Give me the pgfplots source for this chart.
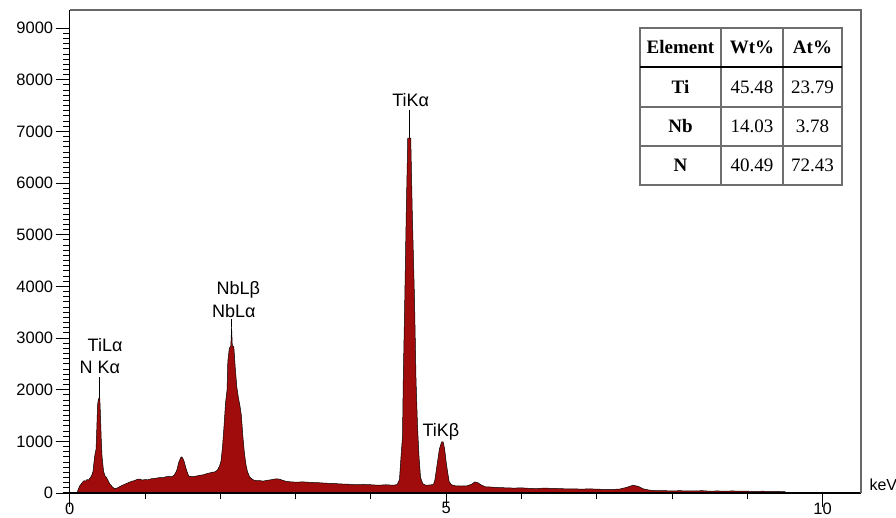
\documentclass[border=0pt]{standalone}
\usepackage{fontspec}
\setmainfont{Liberation Sans}
\newfontfamily\tabfont{Liberation Serif}
\usepackage{pgfplots}
\pgfplotsset{compat=1.18}
\definecolor{specred}{RGB}{160,12,12}
\definecolor{framegray}{RGB}{105,105,105}
\definecolor{tabgray}{RGB}{110,110,110}
\tikzset{peak/.style={font=\fontsize{18}{18}\selectfont, inner sep=0pt}}

\begin{document}
\begin{tikzpicture}
\path[use as bounding box] (0,0) rectangle (896pt,518pt);
\begin{axis}[
  at={(69.7pt,25pt)}, anchor=south west,
  scale only axis, width=791.3pt, height=483pt,
  xmin=0, xmax=10.51, ymin=0, ymax=9350,
  xtick={0,5,10}, minor x tick num=4,
  ytick={0,1000,...,9000}, minor y tick num=9,
  tick align=outside, tick pos=left,
  major tick length=14pt, minor tick length=6.5pt,
  tick style={black, line width=0.9pt},
  minor tick style={black, line width=0.8pt},
  axis line style={draw=none},
  /pgf/number format/assume math mode=true,
  /pgf/number format/set thousands separator={},
  ticklabel style={font=\fontsize{16.5}{16.5}\selectfont},
  yticklabel style={xshift=1pt},
  xticklabel style={yshift=8pt},
  clip=false,
]
\addplot[draw=black, line width=0.5pt, fill=specred] table {
x y
0.00 0
0.10 0
0.11 60
0.13 130
0.15 170
0.17 210
0.19 240
0.21 230
0.23 260
0.25 250
0.27 290
0.29 330
0.31 420
0.33 700
0.35 850
0.36 1250
0.37 1700
0.38 1810
0.39 1840
0.40 1830
0.41 1450
0.42 1000
0.43 700
0.45 420
0.47 330
0.49 300
0.51 240
0.53 180
0.55 150
0.57 110
0.60 85
0.63 95
0.66 120
0.70 150
0.74 175
0.78 200
0.82 225
0.86 240
0.90 265
0.93 270
0.96 250
1.00 260
1.04 255
1.08 275
1.12 280
1.16 290
1.20 300
1.24 295
1.28 315
1.32 320
1.36 315
1.39 350
1.42 430
1.45 600
1.48 700
1.50 680
1.52 610
1.55 450
1.58 330
1.61 315
1.65 320
1.69 330
1.73 345
1.77 350
1.81 370
1.85 385
1.89 400
1.93 410
1.96 440
1.99 520
2.01 620
2.03 900
2.05 1300
2.07 1750
2.09 2000
2.10 2550
2.12 2800
2.14 2850
2.15 3220
2.16 2850
2.18 2830
2.20 2400
2.22 2050
2.24 1850
2.26 1700
2.28 1500
2.30 1100
2.32 780
2.34 560
2.36 420
2.39 310
2.43 260
2.47 240
2.52 240
2.57 230
2.62 245
2.67 255
2.72 270
2.76 275
2.80 260
2.85 235
2.90 220
2.95 215
3.00 210
3.10 215
3.20 205
3.30 200
3.40 190
3.50 185
3.60 175
3.70 170
3.80 160
3.90 165
4.00 160
4.10 150
4.20 160
4.30 150
4.35 165
4.38 260
4.40 700
4.42 1090
4.43 2185
4.45 3730
4.47 5440
4.49 6870
4.53 6870
4.55 5440
4.58 3730
4.60 2185
4.62 1280
4.64 700
4.66 300
4.69 180
4.73 150
4.78 155
4.83 165
4.85 250
4.87 450
4.89 650
4.91 850
4.94 990
4.96 990
4.98 850
5.00 600
5.02 400
5.04 220
5.07 160
5.12 140
5.20 135
5.28 140
5.34 170
5.38 215
5.42 200
5.46 160
5.52 120
5.60 115
5.70 105
5.80 100
5.90 95
6.00 100
6.10 90
6.20 85
6.30 95
6.40 90
6.50 85
6.60 80
6.70 80
6.80 75
6.90 80
7.00 75
7.10 70
7.20 70
7.30 75
7.40 110
7.48 150
7.55 130
7.62 80
7.70 55
7.80 45
7.90 45
8.00 40
8.10 45
8.20 40
8.30 40
8.40 45
8.50 35
8.60 40
8.70 35
8.80 40
8.90 35
9.00 35
9.10 30
9.20 35
9.30 30
9.40 30
9.50 25
9.52 0
10.51 0
} \closedcycle;
% frame
\draw[black, line width=1.3pt] (rel axis cs:0,1) -- (rel axis cs:0,0);
\draw[black, line width=1.3pt] ([xshift=-7pt]rel axis cs:0,0) -- (rel axis cs:1,0);
\draw[framegray, line width=1.1pt] (rel axis cs:0,1) -- (rel axis cs:1,1) -- (rel axis cs:1,0);
% peak labels
\draw[black, line width=0.7pt] (axis cs:0.39,1840) -- (axis cs:0.39,2250);
\node[peak] at (axis cs:0.47,2864) {TiLα};
\node[peak] at (axis cs:0.40,2440) {N Kα};
\draw[black, line width=0.7pt] (axis cs:2.15,3220) -- (axis cs:2.15,3370);
\node[peak] at (axis cs:2.24,3940) {NbLβ};
\node[peak] at (axis cs:2.18,3530) {NbLα};
\draw[black, line width=0.7pt] (axis cs:4.51,6870) -- (axis cs:4.51,7410);
\node[peak] at (axis cs:4.53,7610) {TiKα};
\node[peak] at (axis cs:4.93,1186) {TiKβ};
\end{axis}
% keV label
\node[anchor=west, font=\fontsize{16}{16}\selectfont] at (866pt,33pt) {keV};
% table
\fill[white] (640pt,333pt) rectangle (842pt,490pt);
\draw[tabgray, line width=1.1pt] (640pt,333pt) rectangle (842pt,490pt);
\draw[tabgray, line width=1.1pt] (721pt,333pt) -- (721pt,490pt);
\draw[tabgray, line width=1.1pt] (783pt,333pt) -- (783pt,490pt);
\draw[tabgray, line width=1.1pt] (640pt,411pt) -- (842pt,411pt);
\draw[tabgray, line width=1.1pt] (640pt,372pt) -- (842pt,372pt);
\draw[black, line width=2.6pt] (640pt,451pt) -- (842pt,451pt);
\begingroup
\tabfont\fontsize{19}{19}\selectfont
\node at (680.5pt,470.5pt) {\bfseries Element};
\node at (752pt,470.5pt) {\bfseries Wt\%};
\node at (812.5pt,470.5pt) {\bfseries At\%};
\node at (680.5pt,431pt) {\bfseries Ti};
\node at (752pt,431pt) {45.48};
\node at (812.5pt,431pt) {23.79};
\node at (680.5pt,391.5pt) {\bfseries Nb};
\node at (752pt,391.5pt) {14.03};
\node at (812.5pt,391.5pt) {3.78};
\node at (680.5pt,352.5pt) {\bfseries N};
\node at (752pt,352.5pt) {40.49};
\node at (812.5pt,352.5pt) {72.43};
\endgroup
\end{tikzpicture}
\end{document}
